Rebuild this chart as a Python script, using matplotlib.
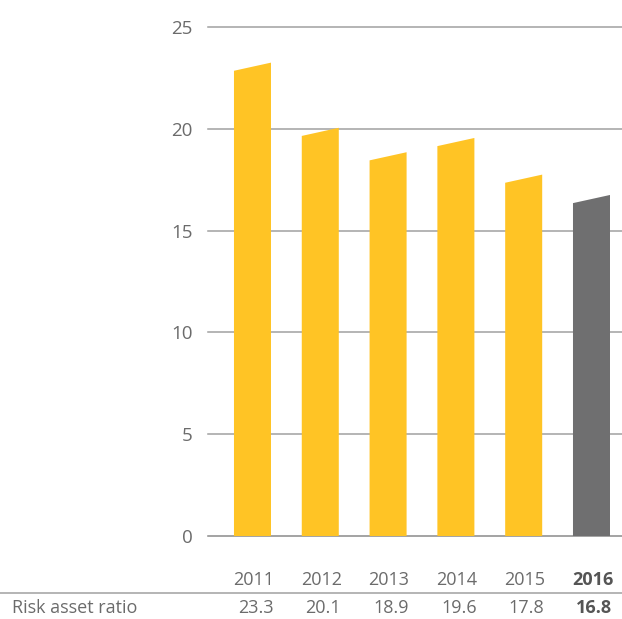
import matplotlib
matplotlib.use("Agg")
import matplotlib.pyplot as plt
from matplotlib.patches import Polygon
from matplotlib.lines import Line2D

years = ["2011", "2012", "2013", "2014", "2015", "2016"]
ratios = [23.3, 20.1, 18.9, 19.6, 17.8, 16.8]
yticks = [0, 5, 10, 15, 20, 25]
row_label = "Risk asset ratio"

YELLOW = "#FFC425"
GREY_BAR = "#6F6F70"
TEXT = "#6B6B6B"
GRID = "#A0A0A0"

plt.rcParams["font.family"] = ["Open Sans", "DejaVu Sans"]

W, H = 622, 619
fig = plt.figure(figsize=(W / 100, H / 100), dpi=100)
ax = fig.add_axes([208 / W, 83 / H, (W - 208) / W, (536 - 27) / H])

bar_w = 0.546
n = len(years)
for i, v in enumerate(ratios):
    color = GREY_BAR if i == n - 1 else YELLOW
    x0, x1 = i - bar_w / 2, i + bar_w / 2
    # slanted top: rises from left to right
    poly = Polygon([(x0, 0), (x1, 0), (x1, v - 0.05), (x0, v - 0.45)],
                   closed=True, facecolor=color, edgecolor="none", zorder=3)
    ax.add_patch(poly)

ax.set_xlim(-0.656, n - 1 + 0.45)
ax.set_ylim(0, 25)
ax.set_yticks(yticks)
ax.set_xticks([])
for t in yticks:
    ax.axhline(t, color=GRID if t else "#8A8A8A", lw=1.1, zorder=1, clip_on=False)
for s in ax.spines.values():
    s.set_visible(False)
ax.tick_params(axis="y", length=0, pad=11, labelsize=13.5, labelcolor=TEXT)

# table below the chart
to_fig = lambda xd: fig.transFigure.inverted().transform(ax.transData.transform((xd, 0)))[0]
y_year = 1 - 580 / H
y_val = 1 - 608 / H
fs = 13
for i, (yr, v) in enumerate(zip(years, ratios)):
    bold = i == n - 1
    xf = to_fig(i) + 1 / W
    kw = dict(ha="center", va="center", fontsize=fs,
              color="#555555" if bold else TEXT,
              fontweight="bold" if bold else "normal")
    fig.text(xf, y_year, yr, **kw)
    fig.text(xf + 2 / W, y_val, f"{v:.1f}", **kw)
fig.text(12 / W, y_val, row_label, ha="left", va="center", fontsize=fs, color=TEXT)
fig.add_artist(Line2D([0, 1], [1 - 593 / H, 1 - 593 / H], transform=fig.transFigure,
                      color=GRID, lw=1.1))

fig.savefig("out.png", dpi=100)
